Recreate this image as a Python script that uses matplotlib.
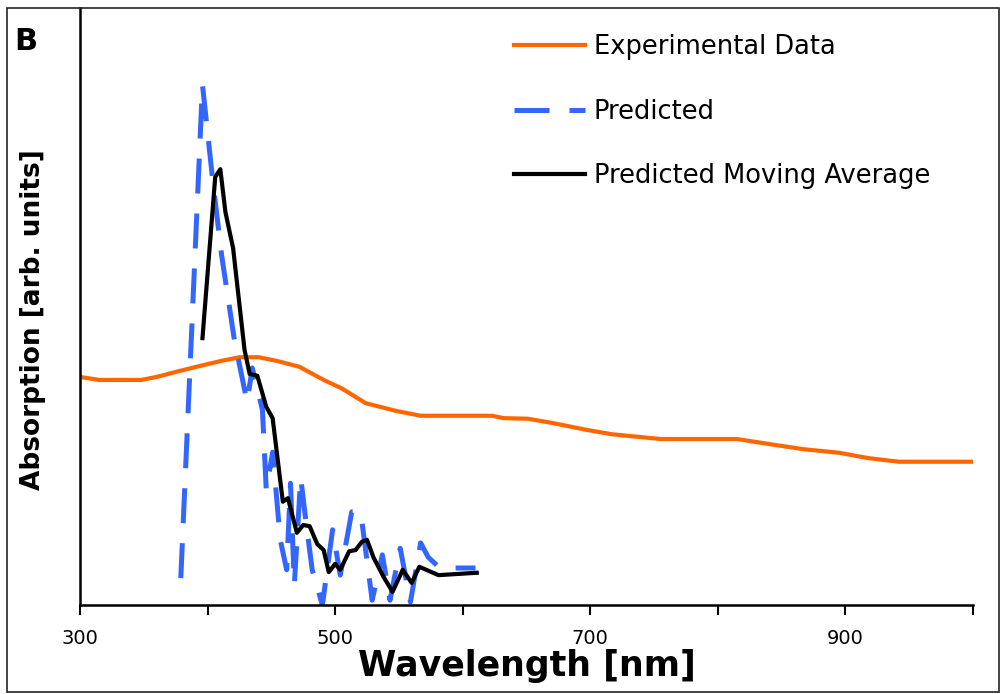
import numpy as np
import matplotlib
matplotlib.use("Agg")
import matplotlib.pyplot as plt
from matplotlib.patches import Rectangle

# ---- data ----
exp_nm = [300, 315, 348, 360, 378, 397, 411, 425, 440, 454, 472, 491, 505, 524, 548,
          567, 623, 632, 651, 670, 698, 717, 755, 815, 839, 867, 895, 918, 942, 1000]
exp_abs = [0.382, 0.377, 0.377, 0.382, 0.392, 0.402, 0.409, 0.415, 0.415, 0.409, 0.399,
           0.377, 0.363, 0.338, 0.325, 0.317, 0.317, 0.313, 0.312, 0.305, 0.293, 0.286,
           0.278, 0.278, 0.270, 0.261, 0.255, 0.246, 0.240, 0.240]

pred_nm = [379, 396, 404, 411, 421, 431, 435, 443, 446, 451, 457, 462, 465, 468, 473,
           477, 482, 490, 498, 504, 513, 520, 529, 537, 543, 551, 559, 567, 573, 582, 610]
pred_abs = [0.045, 0.871, 0.712, 0.586, 0.444, 0.340, 0.397, 0.327, 0.193, 0.256, 0.109,
            0.059, 0.204, 0.034, 0.213, 0.142, 0.059, 0.0, 0.126, 0.050, 0.156, 0.156,
            0.008, 0.084, 0.008, 0.095, 0.005, 0.104, 0.080, 0.062, 0.062]

avg_nm = [396, 406, 410, 414, 420, 429, 433, 439, 446, 451, 459, 463, 470, 475, 480,
          486, 491, 495, 500, 504, 511, 516, 521, 525, 530, 538, 545, 553, 560, 566, 581, 611]
avg_abs = [0.447, 0.717, 0.730, 0.658, 0.598, 0.427, 0.387, 0.384, 0.332, 0.313, 0.173,
           0.179, 0.121, 0.134, 0.132, 0.102, 0.092, 0.055, 0.069, 0.059, 0.090, 0.092,
           0.106, 0.109, 0.080, 0.047, 0.022, 0.059, 0.037, 0.064, 0.050, 0.054]

xticks = [300, 400, 500, 600, 700, 800, 900, 1000]
xtick_labels = ["300", "", "500", "", "700", "", "900", ""]

fig = plt.figure(figsize=(10.01, 6.94), dpi=100)
ax = fig.add_axes([80 / 1001, 89 / 694, 893 / 1001, 597 / 694])

ax.plot(exp_nm, exp_abs, color="#FF6600", lw=3.0, label="Experimental Data",
        solid_joinstyle="round")
ax.plot(pred_nm, pred_abs, color="#3366FF", lw=3.6, dashes=(7, 4), label="Predicted")
ax.plot(avg_nm, avg_abs, color="black", lw=3.0, label="Predicted Moving Average",
        solid_joinstyle="round")

ax.set_xlim(300, 1000)
ax.set_ylim(0, 1.0)
ax.set_xticks(xticks)
ax.set_xticklabels(xtick_labels, fontsize=14)
ax.set_yticks([])
ax.tick_params(axis="x", direction="out", length=7, width=1.5, pad=10)

for s in ["top", "right"]:
    ax.spines[s].set_visible(False)
for s in ["left", "bottom"]:
    ax.spines[s].set_linewidth(1.8)
    ax.spines[s].set_color("black")

ax.set_xlabel("Wavelength [nm]", fontsize=25, fontweight="bold", labelpad=1)
ax.set_ylabel("Absorption [arb. units]", fontsize=19, fontweight="bold")
ax.yaxis.set_label_coords(-0.038, 0.478)

leg = ax.legend(loc="upper left", bbox_to_anchor=(416 / 893, 1 - 8 / 597), frameon=False,
                fontsize=18.5, handlelength=2.75, handletextpad=0.35,
                labelspacing=1.5, borderaxespad=0.3)

fig.text(14 / 1001, 1 - 27 / 694, "B", fontsize=22, fontweight="bold",
         ha="left", va="top")

# outer chart border
fig.patches.append(Rectangle((7 / 1001, 2 / 694), 992 / 1001, 684 / 694,
                             transform=fig.transFigure, fill=False,
                             edgecolor="#222222", lw=1.2))

fig.savefig("out.png", dpi=100)
